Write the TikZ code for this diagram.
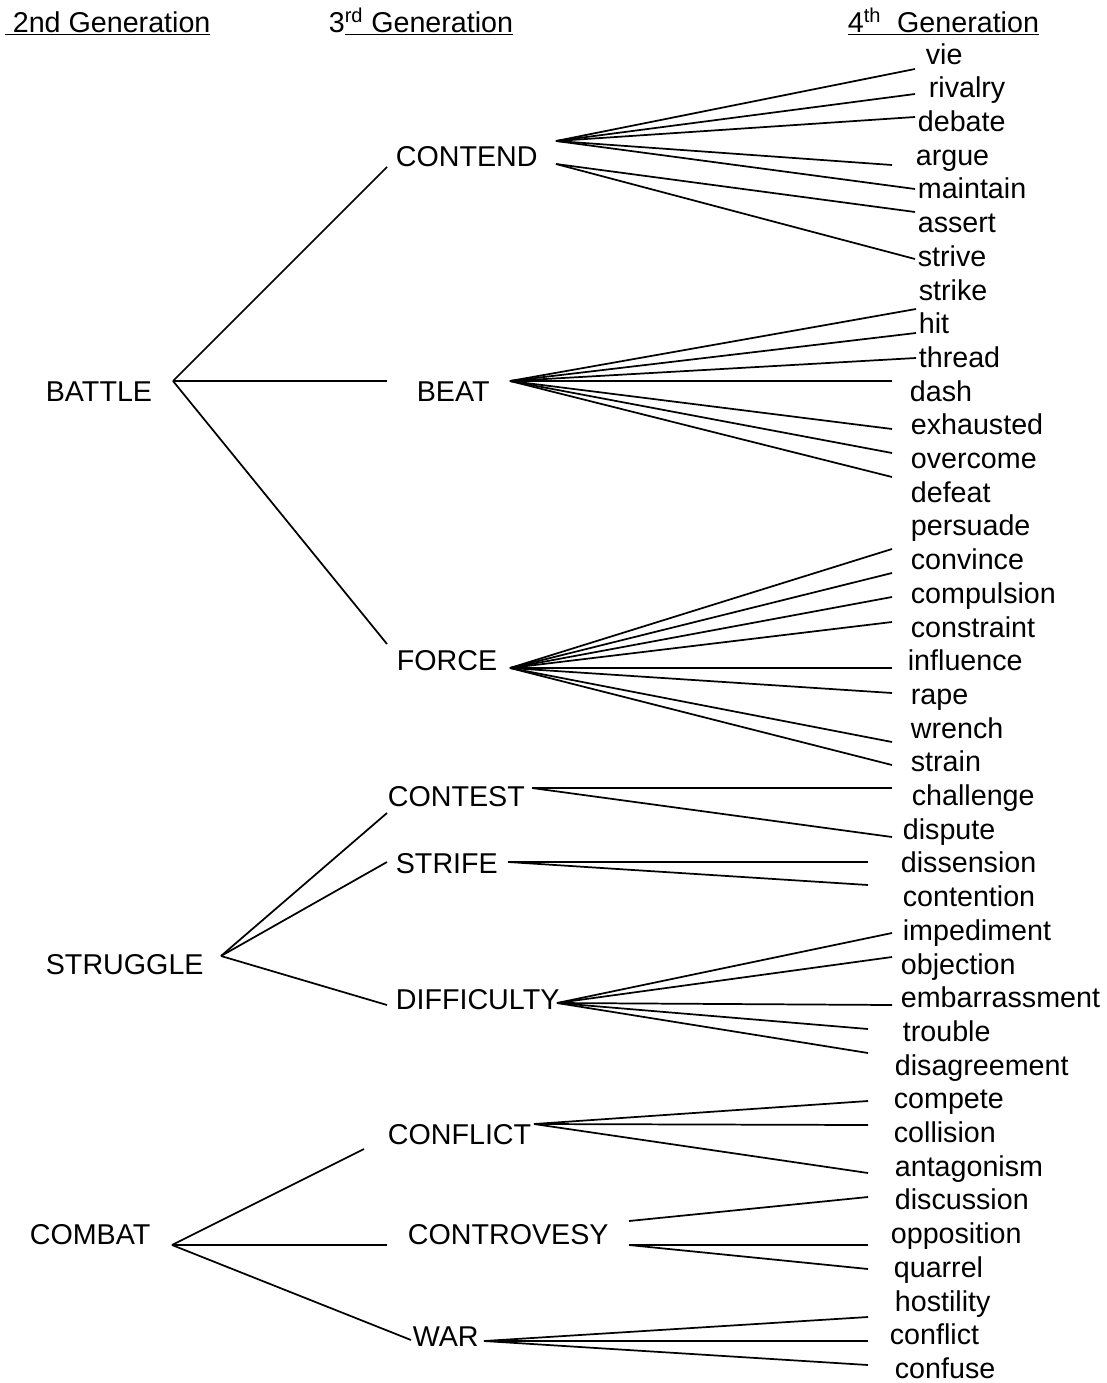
\documentclass[tikz,border=0pt]{standalone}
\usepackage{fontspec}
\setmainfont{Liberation Sans}

\begin{document}
\begin{tikzpicture}[x=0.75pt,y=-0.75pt,
        font=\fontsize{21.5}{26}\selectfont,line width=1.3pt,
        wordnode/.style={inner sep=0pt,anchor=west,yshift=-4pt,
            text height=0.716em,text depth=0pt}]

    \useasboundingbox (0,0) rectangle (1106,1383);

    % headings
    \node[wordnode] (head2) at (4,22) {\underline{\ 2nd Generation}};
    \node[wordnode] (head3) at (328,22) {3\underline{\textsuperscript{rd} Generation}};
    \node[wordnode] (head4) at (847,22) {\underline{4\textsuperscript{th}\ \ Generation}};

    % 2nd generation
    \node[wordnode] (battle) at (45,391) {BATTLE};
    \node[wordnode] (struggle) at (45,964) {STRUGGLE};
    \node[wordnode] (combat) at (29,1234) {COMBAT};

    % 3rd generation
    \node[wordnode] (contend) at (395,156) {CONTEND};
    \node[wordnode] (beat) at (416,391) {BEAT};
    \node[wordnode] (force) at (396,660) {FORCE};
    \node[wordnode] (contest) at (387,796) {CONTEST};
    \node[wordnode] (strife) at (395,863) {STRIFE};
    \node[wordnode] (difficulty) at (395,999) {DIFFICULTY};
    \node[wordnode] (conflict) at (387,1134) {CONFLICT};
    \node[wordnode] (controvesy) at (407,1234) {CONTROVESY};
    \node[wordnode] (war) at (412,1336) {WAR};

    % 4th generation
    \foreach \word/\x [count=\i from 0] in {vie/925,rivalry/928,debate/917,argue/915,
            maintain/917,assert/917,strive/917,strike/918,hit/918,thread/918,dash/909,
            exhausted/910,overcome/910,defeat/910,persuade/910,convince/910,
            compulsion/910,constraint/910,influence/907,rape/910,wrench/910,strain/910,
            challenge/911,dispute/902,dissension/900,contention/902,impediment/902,
            objection/900,embarrassment/900,trouble/902,disagreement/894,compete/893,
            collision/893,antagonism/894,discussion/894,opposition/890,quarrel/893,
            hostility/894,conflict/889,confuse/894}
        \node[wordnode] (w-\word) at (\x,{54+33.7*\i}) {\word};

    % branch points
    \coordinate (battleA) at (173,381);
    \coordinate (struggleA) at (221,956);
    \coordinate (combatA) at (172,1245);
    \coordinate (contendA1) at (556,141);
    \coordinate (contendA2) at (556,164);
    \coordinate (beatA) at (510,381);
    \coordinate (forceA) at (510,668);
    \coordinate (contestA) at (532,788);
    \coordinate (strifeA) at (508,862);
    \coordinate (difficultyA) at (557,1003);
    \coordinate (conflictA) at (534,1124);
    \coordinate (controvesyA1) at (629,1221);
    \coordinate (controvesyA2) at (629,1245);
    \coordinate (warA) at (484,1341);

    % branches
    \foreach \ex/\ey [count=\i] in {387/167,387/381,387/644}
        \draw (battleA) -- (\ex,\ey) coordinate (battle-\i);
    \foreach \ex/\ey [count=\i] in {387/813,387/862,387/1005}
        \draw (struggleA) -- (\ex,\ey) coordinate (struggle-\i);
    \foreach \ex/\ey [count=\i] in {364/1149,387/1245,411/1340}
        \draw (combatA) -- (\ex,\ey) coordinate (combat-\i);

    \foreach \ex/\ey [count=\i] in {915/69,915/94,915/117,892/165,915/189}
        \draw (contendA1) -- (\ex,\ey) coordinate (contend-\i);
    \foreach \ex/\ey [count=\i] in {915/212,915/259}
        \draw (contendA2) -- (\ex,\ey) coordinate (contend-b\i);
    \foreach \ex/\ey [count=\i] in {916/309,916/333,916/358,892/381,892/429,892/453,892/477}
        \draw (beatA) -- (\ex,\ey) coordinate (beat-\i);
    \foreach \ex/\ey [count=\i] in {892/549,892/573,892/597,892/622,892/668,892/693,892/742,892/765}
        \draw (forceA) -- (\ex,\ey) coordinate (force-\i);
    \foreach \ex/\ey [count=\i] in {892/788,892/837}
        \draw (contestA) -- (\ex,\ey) coordinate (contest-\i);
    \foreach \ex/\ey [count=\i] in {868/862,868/885}
        \draw (strifeA) -- (\ex,\ey) coordinate (strife-\i);
    \foreach \ex/\ey [count=\i] in {892/933,892/957,892/1005,868/1029,868/1053}
        \draw (difficultyA) -- (\ex,\ey) coordinate (difficulty-\i);
    \foreach \ex/\ey [count=\i] in {868/1101,868/1125,868/1173}
        \draw (conflictA) -- (\ex,\ey) coordinate (conflict-\i);
    \draw (controvesyA1) -- (868,1197) coordinate (controvesy-1);
    \foreach \ex/\ey [count=\i] in {868/1245,868/1269}
        \draw (controvesyA2) -- (\ex,\ey) coordinate (controvesy-b\i);
    \foreach \ex/\ey [count=\i] in {868/1317,868/1341,868/1365}
        \draw (warA) -- (\ex,\ey) coordinate (war-\i);
\end{tikzpicture}
\end{document}
